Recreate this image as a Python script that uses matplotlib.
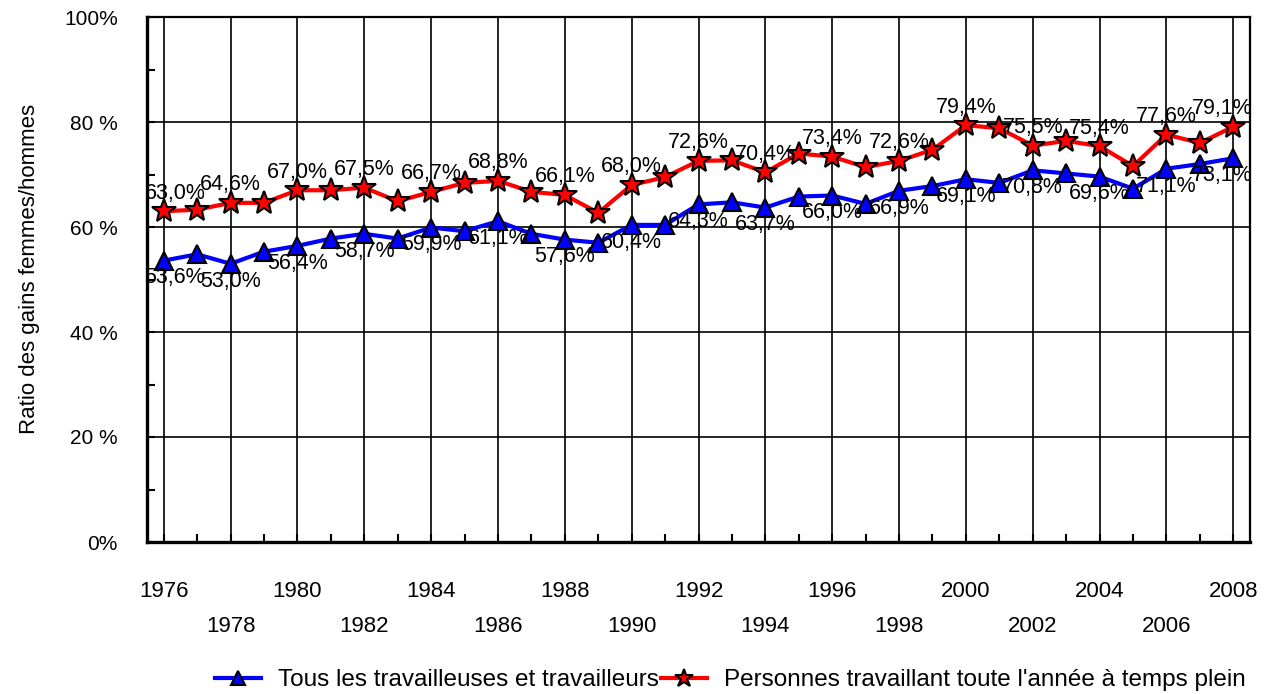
import matplotlib
matplotlib.use("Agg")
import matplotlib.pyplot as plt

plt.rcParams['font.family'] = ['Liberation Sans', 'DejaVu Sans']

# Données
years = list(range(1976, 2009))
tous = [53.6, 54.8, 53.0, 55.3, 56.4, 57.8, 58.7, 57.8, 59.9, 59.2, 61.1,
        58.7, 57.6, 57.0, 60.4, 60.4, 64.3, 64.7, 63.7, 65.8, 66.0, 64.4,
        66.9, 67.8, 69.1, 68.4, 70.8, 70.2, 69.6, 67.3, 71.1, 72.0, 73.1]
plein = [63.0, 63.3, 64.6, 64.6, 67.0, 67.0, 67.5, 64.9, 66.7, 68.4, 68.8,
         66.7, 66.1, 62.7, 68.0, 69.5, 72.6, 72.7, 70.4, 74.0, 73.4, 71.4,
         72.6, 74.7, 79.4, 78.8, 75.5, 76.4, 75.4, 71.6, 77.6, 76.0, 79.1]
y_ticks = [0, 20, 40, 60, 80, 100]
y_labels = ['0%', '20 %', '40 %', '60 %', '80 %', '100%']
row1_years = years[::4]
row2_years = years[2::4]
legend_names = ['Tous les travailleuses et travailleurs',
                "Personnes travaillant toute l'année à temps plein"]

fig = plt.figure(figsize=(12.66, 6.94), dpi=100)
ax = fig.add_axes([147 / 1266, 152 / 694, 1103 / 1266, 525 / 694])

ax.plot(years, tous, color='#0000ff', lw=3, marker='^', ms=13,
        mfc='#0000ff', mec='black', mew=1.5, label=legend_names[0], zorder=3)
ax.plot(years, plein, color='#ff0000', lw=3, marker='*', ms=18,
        mfc='#ff0000', mec='black', mew=1.5, label=legend_names[1], zorder=3)

# étiquettes (une année sur deux)
n = len(years)
for i in range(0, n, 2):
    dx = 8 if i == 0 else (-8 if i == n - 1 else 0)
    txt = f"{plein[i]:.1f}".replace('.', ',') + '%'
    ax.annotate(txt, (years[i], plein[i]), xytext=(dx, 13),
                textcoords='offset points', ha='center', va='center',
                fontsize=15.5, zorder=4)
    txt = f"{tous[i]:.1f}".replace('.', ',') + '%'
    ax.annotate(txt, (years[i], tous[i]), xytext=(dx, -12.5),
                textcoords='offset points', ha='center', va='center',
                fontsize=15.5, zorder=4)

ax.set_xlim(1975.5, 2008.5)
ax.set_ylim(0, 100)

ax.set_yticks(y_ticks)
ax.set_yticklabels(y_labels, fontsize=15)
ax.set_yticks(range(10, 100, 20), minor=True)
ax.tick_params(axis='y', which='both', direction='in', length=6, width=1.5, pad=21)

ax.set_xticks(row1_years)
ax.set_xticklabels([str(y) for y in row1_years], fontsize=16)
ax.set_xticks(row2_years, minor=True)
ax.set_xticklabels([str(y) for y in row2_years], minor=True, fontsize=16)
ax.tick_params(axis='x', which='major', length=0, pad=28)
ax.tick_params(axis='x', which='minor', length=0, pad=53)

# petites graduations à chaque année
sec = ax.secondary_xaxis('bottom')
sec.set_xticks(years)
sec.tick_params(direction='in', length=6, width=1.5, labelbottom=False)
sec.spines['bottom'].set_visible(False)

ax.grid(axis='x', which='both', color='black', lw=1.2)
ax.grid(axis='y', which='major', color='black', lw=1.2)
ax.set_axisbelow(True)

for s in ['left', 'bottom']:
    ax.spines[s].set_linewidth(2.4)
for s in ['top', 'right']:
    ax.spines[s].set_linewidth(1.6)

ax.set_ylabel('Ratio des gains femmes/hommes', fontsize=16)
ax.yaxis.set_label_coords(-0.097, 0.52)

fig.legend(loc='center', bbox_to_anchor=(0.577, 0.02), ncol=2, frameon=False,
           fontsize=17.5, handlelength=1.9, handletextpad=0.7, columnspacing=0.1,
           markerscale=0.75)

fig.savefig('out.png', dpi=100)
